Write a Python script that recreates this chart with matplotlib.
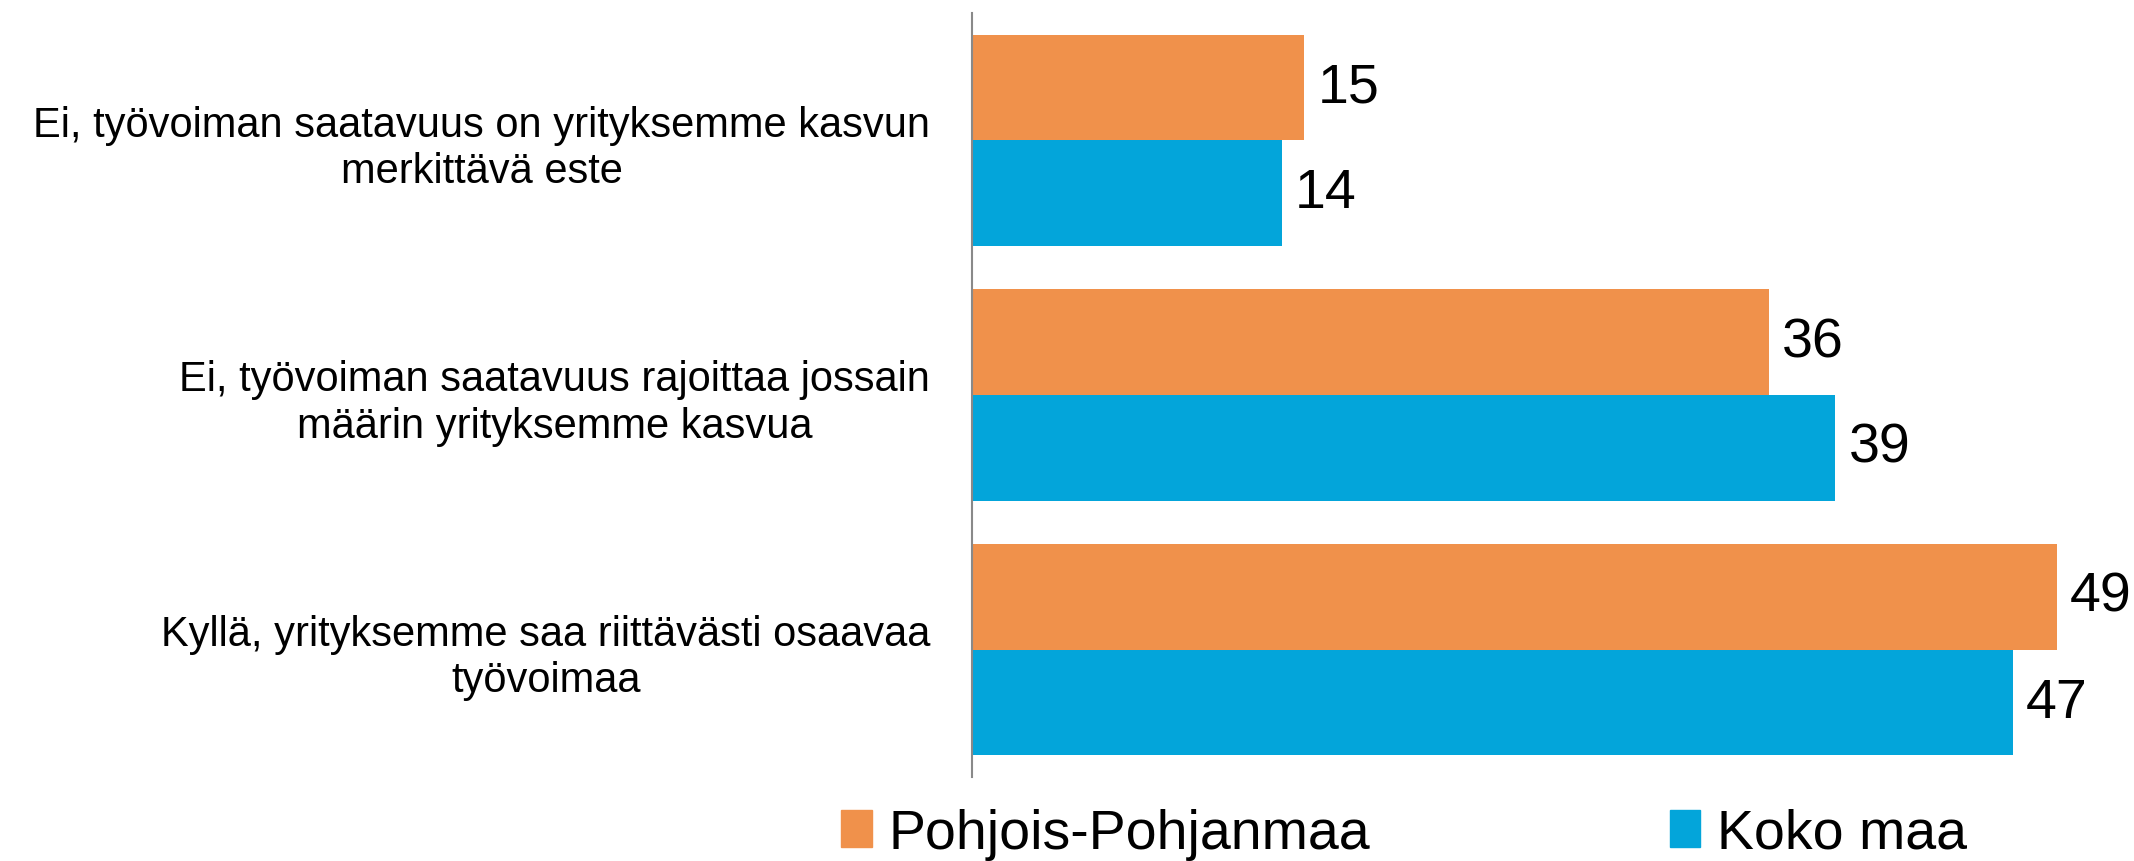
import matplotlib
matplotlib.use("Agg")
import matplotlib.pyplot as plt
import numpy as np

# categories, top to bottom
categories = [
    "Ei, työvoiman saatavuus on yrityksemme kasvun\nmerkittävä este",
    "Ei, työvoiman saatavuus rajoittaa jossain\nmäärin yrityksemme kasvua",
    "Kyllä, yrityksemme saa riittävästi osaavaa\ntyövoimaa",
]
pohjois = [15, 36, 49]
koko_maa = [14, 39, 47]
series_names = ["Pohjois-Pohjanmaa", "Koko maa"]
colors = ["#F0914B", "#03A5DA"]

plt.rcParams["font.family"] = ["Liberation Sans", "DejaVu Sans"]

fig = plt.figure(figsize=(21.34, 8.62), dpi=100)
ax = fig.add_axes([972 / 2134, 84 / 862, 1 - 972 / 2134, 764 / 862])

y = np.arange(len(categories))
h = 0.415
bars1 = ax.barh(y - h / 2, pohjois, height=h, color=colors[0], label=series_names[0])
bars2 = ax.barh(y + h / 2, koko_maa, height=h, color=colors[1], label=series_names[1])

ax.set_ylim(len(categories) - 0.5, -0.5)
ax.set_xlim(0, 1162 / 22.14)

# value labels right of each bar
for bars, vals in [(bars1, pohjois), (bars2, koko_maa)]:
    for b, v in zip(bars, vals):
        ax.text(b.get_width() + 0.6, b.get_y() + b.get_height() / 2, str(v),
                va="center", ha="left", fontsize=40)

ax.set_yticks(y)
ax.set_yticklabels(categories, fontsize=30, multialignment="center", linespacing=1.2)
ax.tick_params(axis="y", length=0, pad=30)
ax.set_xticks([])
for s in ["top", "right", "bottom"]:
    ax.spines[s].set_visible(False)
ax.spines["left"].set_color("#898989")
ax.spines["left"].set_linewidth(1.5)

handles = [plt.Rectangle((0, 0), 1, 1, color=c) for c in colors]
fig.legend(handles, series_names, loc="center left", bbox_to_anchor=(841 / 2134, 27 / 862),
           ncol=2, frameon=False, fontsize=40, handlelength=0.55, handleheight=0.65,
           handletextpad=0.3, columnspacing=5.4, borderpad=0, borderaxespad=0)

fig.savefig("out.png", dpi=100)
